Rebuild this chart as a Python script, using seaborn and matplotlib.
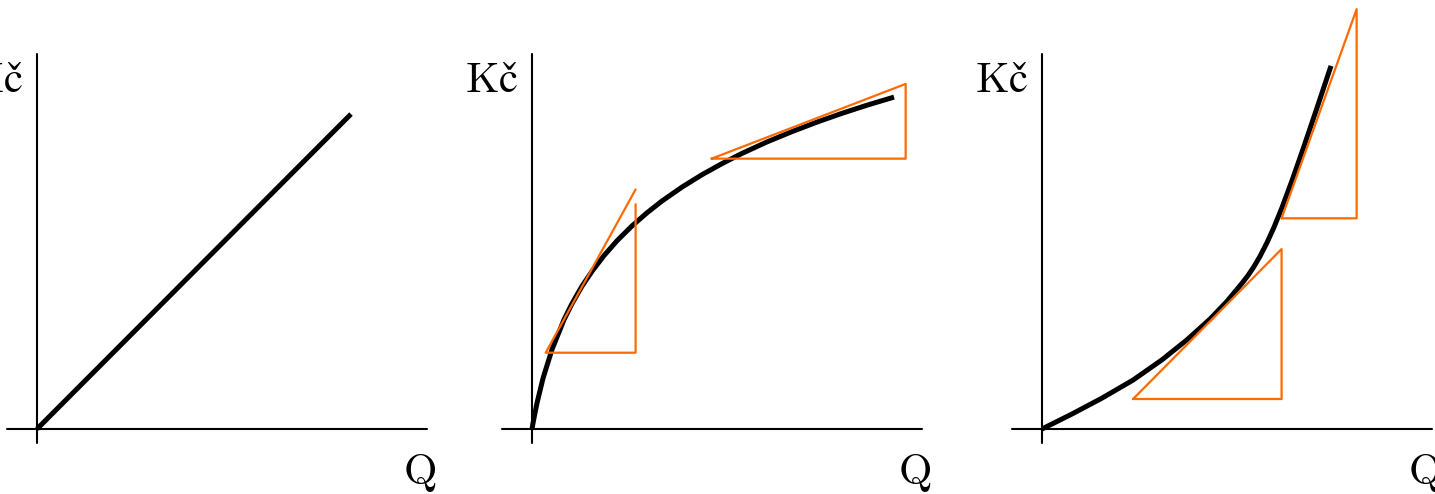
import matplotlib
matplotlib.use("Agg")
import matplotlib.pyplot as plt
import seaborn as sns

sns.set_style("white")
plt.rcParams["mathtext.fontset"] = "cm"
plt.rcParams["text.color"] = "black"

# Panel 1: linear total cost
q_linear = [0.0, 10.0]
tc_linear = [0.0, 10.03]

# Panel 2: concave total cost
q_concave = [0.0, 0.032, 0.064, 0.159, 0.350, 0.637, 1.019, 1.274, 1.592,
             1.911, 2.293, 2.707, 3.185, 3.662, 4.140, 4.777, 5.414, 6.051,
             6.688, 7.484, 8.280, 9.076, 9.873, 10.669, 11.529]
tc_concave = [0.0, 0.181, 0.353, 0.824, 1.611, 2.535, 3.481, 3.994, 4.548,
              5.022, 5.522, 5.994, 6.468, 6.885, 7.261, 7.704, 8.099, 8.452,
              8.777, 9.143, 9.471, 9.774, 10.054, 10.312, 10.570]

# Panel 3: convex total cost
q_convex = [0.0, 0.955, 1.911, 2.898, 3.822, 4.618, 5.350, 5.892, 6.369,
            6.561, 6.752, 6.943, 7.166, 7.389, 7.643, 7.962, 8.312, 8.758,
            9.204]
tc_convex = [0.0, 0.478, 0.984, 1.557, 2.204, 2.841, 3.500, 4.067, 4.640,
             4.889, 5.175, 5.500, 5.936, 6.427, 7.051, 7.911, 8.911, 10.226,
             11.564]

# Slope triangles (tangent, run, rise)
tri_concave_low_q = [3.30, 3.30, 0.436, 3.30]
tri_concave_low_tc = [7.16, 2.43, 2.43, 7.63]
tri_concave_high_q = [5.72, 11.90, 11.90, 5.72]
tri_concave_high_tc = [8.61, 8.61, 10.99, 8.61]
tri_convex_low_q = [2.90, 7.63, 7.63, 2.90]
tri_convex_low_tc = [0.955, 0.955, 5.73, 0.955]
tri_convex_high_q = [7.63, 10.02, 10.02, 7.63]
tri_convex_high_tc = [6.71, 6.71, 13.37, 6.71]

y_label = r"$\mathrm{Kč}$"
x_label = r"$\mathrm{Q}$"

ORANGE = "#ff6a00"
W, H = 1435, 494
fig = plt.figure(figsize=(W / 100, H / 100), dpi=100)

panel_left_px = [7, 502, 1012]
ax_w_px, ax_top_px, ax_bot_px = 420, 54, 443
unit = 31.4  # pixels per data unit


def make_axes(left_px):
    ax = fig.add_axes([left_px / W, (H - ax_bot_px) / H,
                       ax_w_px / W, (ax_bot_px - ax_top_px) / H])
    ax.set_xlim(-30 / unit, (ax_w_px - 30) / unit)
    ax.set_ylim(-14 / unit, (429 - ax_top_px) / unit)
    ax.axis("off")
    ax.axhline(0, color="black", lw=1.5, clip_on=False)
    ax.axvline(0, color="black", lw=1.5, clip_on=False)
    ax.text(-14 / unit, 337 / unit, y_label, ha="right", va="baseline",
            fontsize=31, color="black")
    ax.text(383 / unit, -23 / unit, x_label, ha="center", va="top",
            fontsize=31, color="black", clip_on=False)
    return ax


def curve(ax, x, y):
    sns.lineplot(x=x, y=y, ax=ax, color="black", lw=3.6, sort=False,
                 estimator=None, solid_capstyle="butt",
                 solid_joinstyle="round", clip_on=False)


def slope(ax, x, y):
    sns.lineplot(x=x, y=y, ax=ax, color=ORANGE, lw=1.6, sort=False,
                 estimator=None, clip_on=False)


ax1 = make_axes(panel_left_px[0])
curve(ax1, q_linear, tc_linear)

ax2 = make_axes(panel_left_px[1])
curve(ax2, q_concave, tc_concave)
slope(ax2, tri_concave_low_q, tri_concave_low_tc)
slope(ax2, tri_concave_high_q, tri_concave_high_tc)

ax3 = make_axes(panel_left_px[2])
curve(ax3, q_convex, tc_convex)
slope(ax3, tri_convex_low_q, tri_convex_low_tc)
slope(ax3, tri_convex_high_q, tri_convex_high_tc)

fig.savefig("out.png", dpi=100)
